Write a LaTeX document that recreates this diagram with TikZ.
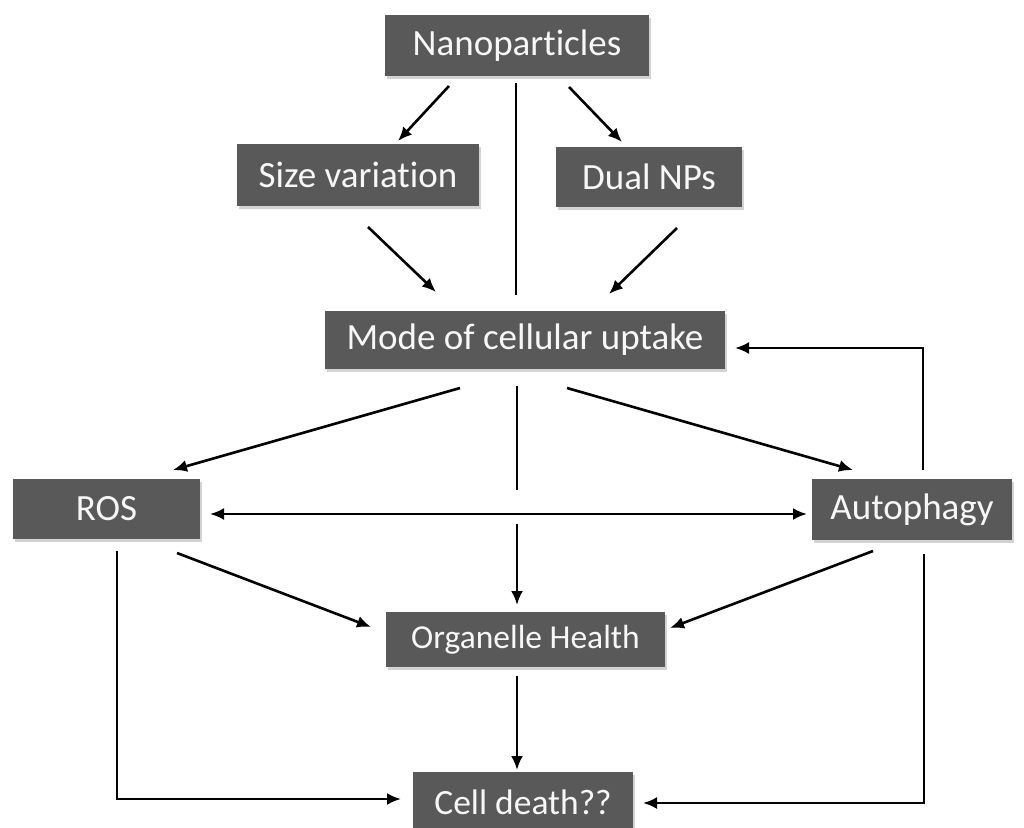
\documentclass[tikz,border=0pt]{standalone}
\usepackage{fontspec}
\setmainfont{Carlito}[Ligatures={NoCommon}]
\usetikzlibrary{arrows.meta,calc,shadows}
\definecolor{boxgrey}{HTML}{595959}
\definecolor{boxtext}{HTML}{F7F7F7}
\tikzset{
  flowbox/.style={fill=boxgrey, text=boxtext, inner sep=0pt, outer sep=0pt,
    font=\fontsize{37}{40}\selectfont,
    drop shadow={opacity=0.35, shadow xshift=2pt, shadow yshift=-3pt}},
  link/.style={line width=2.6pt, draw=black},
  arr/.style={link, -{Latex[length=14pt,width=12pt]}},
  dblarr/.style={link, {Latex[length=14pt,width=12pt]}-{Latex[length=14pt,width=12pt]}}
}
\begin{document}
\begin{tikzpicture}[x=1pt,y=-1pt]
\useasboundingbox (0,0) rectangle (1024,827);
\clip (0,0) rectangle (1024,827);

% boxes
\node[flowbox, minimum width=264pt, minimum height=61pt] (nano) at (517,45.5) {Nanoparticles};
\node[flowbox, minimum width=242pt, minimum height=62pt] (size) at (358,175) {Size variation};
\node[flowbox, minimum width=186pt, minimum height=60pt] (dual) at (649,177) {Dual NPs};
\node[flowbox, minimum width=400pt, minimum height=58pt] (mode) at (525,340) {Mode of cellular uptake};
\node[flowbox, minimum width=187pt, minimum height=60pt] (ros) at (106.5,509) {ROS};
\node[flowbox, minimum width=200pt, minimum height=61pt] (auto) at (912,509.5) {Autophagy};
\node[flowbox, minimum width=279pt, minimum height=55pt, font=\fontsize{33.5}{36}\selectfont] (org) at (525.5,639.5) {Organelle Health};
\node[flowbox, minimum width=220pt, minimum height=60pt, font=\fontsize{35.5}{38}\selectfont] (cell) at (523,802) {Cell death??};

% from the nanoparticles
\draw[arr] ($(nano.south)+(-68,10)$) -- ($(size.north)+(40,-3)$);
\draw[arr] ($(nano.south)+(52,11)$) -- ($(dual.north)+(-27,-5)$);
\draw[link] ($(nano.south)+(-1,7)$) -- ($(mode.north)+(-9,-16)$);
\draw[arr] ($(size.south)+(10,21)$) -- ($(mode.north)+(-89,-19)$);
\draw[arr] ($(dual.south)+(28,21)$) -- ($(mode.north)+(84,-17)$);

% from the uptake mode
\draw[arr] ($(mode.south)+(-65,19)$) -- ($(ros.north)+(66.5,-9)$);
\draw[link] ($(mode.south)+(-8,17)$) -- ($(org.north)+(-8.5,-122)$);
\draw[arr] ($(mode.south)+(42,19)$) -- ($(auto.north)+(-59,-9)$);

% ROS and autophagy
\draw[dblarr] ($(ros.east)+(10,5)$) -- ($(auto.west)+(-5,4.5)$);
\draw[arr] ($(auto.north)+(11,-9)$) |- ($(mode.east)+(10,8)$);
\draw[arr] ($(org.north)+(-8.5,-88)$) -- ($(org.north)+(-8.5,-7)$);
\draw[arr] ($(ros.south)+(70.5,14)$) -- ($(org.west)+(-15,-12.5)$);
\draw[arr] ($(auto.south)+(-39,11)$) -- ($(org.east)+(5,-11.5)$);

% towards cell death
\draw[arr] ($(ros.south)+(10.5,12)$) |- ($(cell.west)+(-12,-3)$);
\draw[arr] ($(auto.south)+(12,14)$) |- ($(cell.east)+(10,1)$);
\draw[arr] ($(org.south)+(-8.5,9)$) -- ($(cell.north)+(-6,-2)$);
\end{tikzpicture}
\end{document}
